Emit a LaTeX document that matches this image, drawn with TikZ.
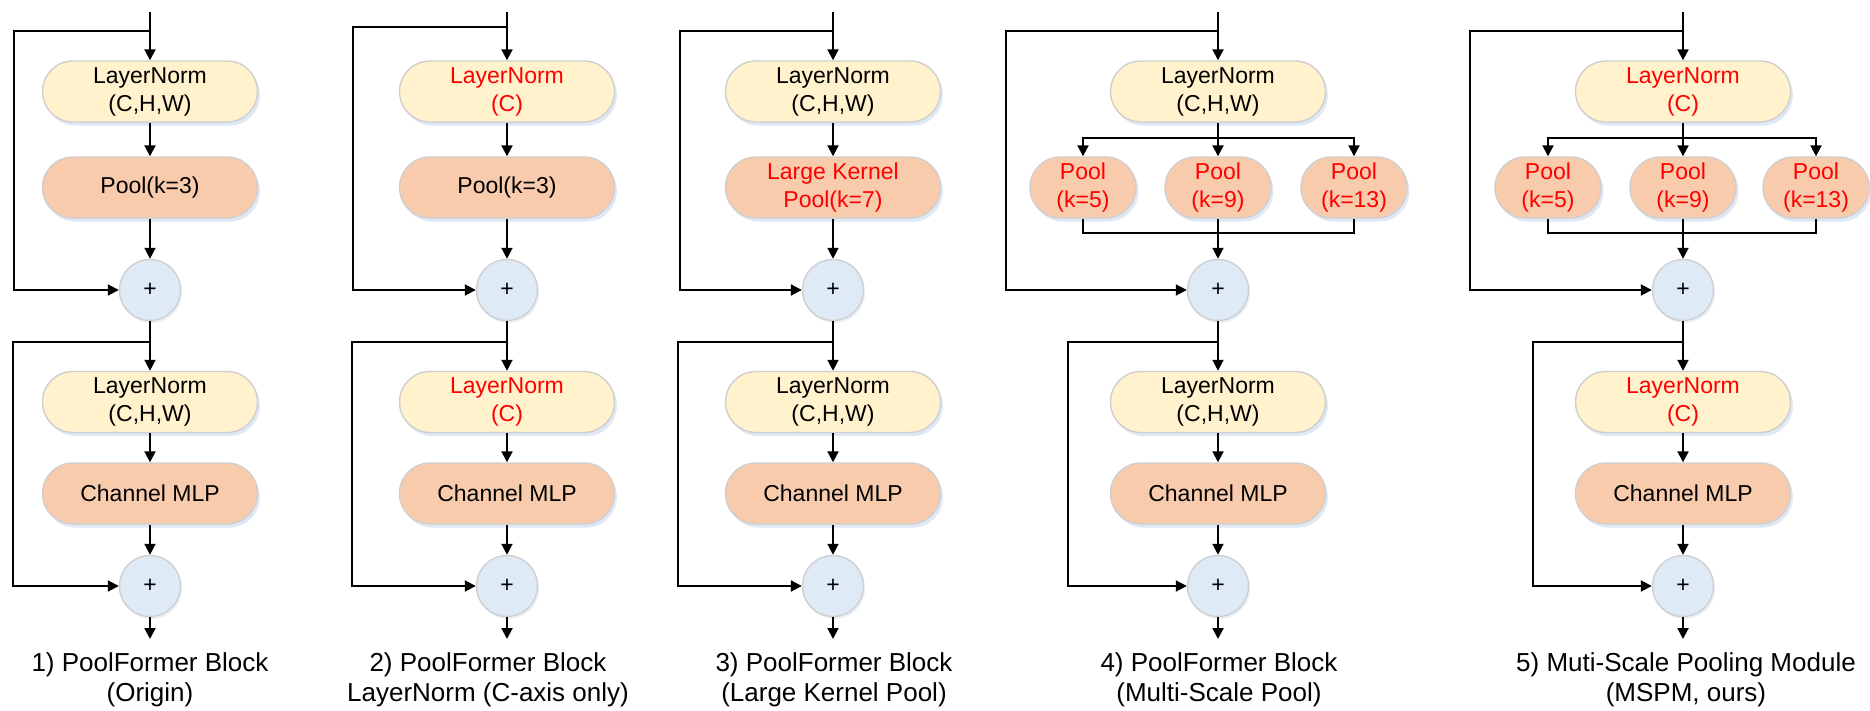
\documentclass[tikz,border=0pt]{standalone}
\usepackage{fontspec}
\setmainfont{Liberation Sans}
\usetikzlibrary{arrows.meta,shadows}
\definecolor{lnfill}{HTML}{FFF2CC}
\definecolor{plfill}{HTML}{F8CBAD}
\definecolor{plusfill}{HTML}{DEEBF7}
\definecolor{bordergray}{HTML}{D0CECE}
\definecolor{shadowblue}{HTML}{C9D9EE}
\definecolor{hl}{HTML}{FF0000}
\tikzset{
  boxbase/.style={rectangle, rounded corners=15.2pt, draw=bordergray, line width=0.7pt,
    minimum width=107.5pt, minimum height=30.5pt, inner sep=1pt, align=center,
    font=\fontsize{11.5}{14}\selectfont,
    drop shadow={shadow xshift=1.2pt, shadow yshift=-1.8pt, fill=shadowblue, opacity=0.6}},
  lnbox/.style={boxbase, fill=lnfill},
  plbox/.style={boxbase, fill=plfill},
  plsmall/.style={boxbase, fill=plfill, minimum width=53pt},
  plusnode/.style={circle, draw=bordergray, line width=0.7pt, fill=plusfill, minimum size=30.5pt,
    inner sep=0pt, font=\fontsize{11.5}{14}\selectfont,
    drop shadow={shadow xshift=0.8pt, shadow yshift=-1.2pt, fill=shadowblue, opacity=0.4}},
  conn/.style={line width=1pt, draw=black},
  arr/.style={conn, -{Triangle[length=5.5pt,width=5.5pt]}},
  captxt/.style={align=center, font=\fontsize{13}{15}\selectfont, inner sep=0pt}
}
\begin{document}
\begin{tikzpicture}[x=0.5pt,y=-0.5pt]
\useasboundingbox (0,0) rectangle (1870,711);

% ---------- Column 1 ----------
\node[lnbox] (ln1a) at (150,91.5) {LayerNorm\\(C,H,W)};
\node[plbox] (pl1) at (150,187.5) {Pool(k=3)};
\node[plusnode] (p1a) at (150,290) {+};
\node[lnbox] (ln1b) at (150,402) {LayerNorm\\(C,H,W)};
\node[plbox] (mlp1) at (150,493.5) {Channel MLP};
\node[plusnode] (p1b) at (150,586) {+};
\coordinate (t1) at (150,12);
\coordinate (b1) at (150,31);
\coordinate (u1) at (14,31);
\coordinate (m1) at (150,342);
\coordinate (l1) at (13,342);
\coordinate (o1) at (150,639);
\draw[arr] (t1) -- (ln1a);
\draw[arr] (ln1a) -- (pl1);
\draw[arr] (pl1) -- (p1a);
\draw[arr] (b1) -- (u1) |- (p1a.west);
\draw[arr] (p1a) -- (ln1b);
\draw[arr] (ln1b) -- (mlp1);
\draw[arr] (mlp1) -- (p1b);
\draw[arr] (m1) -- (l1) |- (p1b.west);
\draw[arr] (p1b) -- (o1);
\node[captxt] (c1) at (150,680) {1) PoolFormer Block\\(Origin)};

% ---------- Column 2 ----------
\node[lnbox] (ln2a) at (507,91.5) {\color{hl}LayerNorm\\\color{hl}(C)};
\node[plbox] (pl2) at (507,187.5) {Pool(k=3)};
\node[plusnode] (p2a) at (507,290) {+};
\node[lnbox] (ln2b) at (507,402) {\color{hl}LayerNorm\\\color{hl}(C)};
\node[plbox] (mlp2) at (507,493.5) {Channel MLP};
\node[plusnode] (p2b) at (507,586) {+};
\coordinate (t2) at (507,12);
\coordinate (b2) at (507,27);
\coordinate (u2) at (353,27);
\coordinate (m2) at (507,342);
\coordinate (l2) at (352,342);
\coordinate (o2) at (507,639);
\draw[arr] (t2) -- (ln2a);
\draw[arr] (ln2a) -- (pl2);
\draw[arr] (pl2) -- (p2a);
\draw[arr] (b2) -- (u2) |- (p2a.west);
\draw[arr] (p2a) -- (ln2b);
\draw[arr] (ln2b) -- (mlp2);
\draw[arr] (mlp2) -- (p2b);
\draw[arr] (m2) -- (l2) |- (p2b.west);
\draw[arr] (p2b) -- (o2);
\node[captxt] (c2) at (488,680) {2) PoolFormer Block\\LayerNorm (C-axis only)};

% ---------- Column 3 ----------
\node[lnbox] (ln3a) at (833,91.5) {LayerNorm\\(C,H,W)};
\node[plbox] (pl3) at (833,187.5) {\color{hl}Large Kernel\\\color{hl}Pool(k=7)};
\node[plusnode] (p3a) at (833,290) {+};
\node[lnbox] (ln3b) at (833,402) {LayerNorm\\(C,H,W)};
\node[plbox] (mlp3) at (833,493.5) {Channel MLP};
\node[plusnode] (p3b) at (833,586) {+};
\coordinate (t3) at (833,12);
\coordinate (b3) at (833,31);
\coordinate (u3) at (680,31);
\coordinate (m3) at (833,342);
\coordinate (l3) at (678,342);
\coordinate (o3) at (833,639);
\draw[arr] (t3) -- (ln3a);
\draw[arr] (ln3a) -- (pl3);
\draw[arr] (pl3) -- (p3a);
\draw[arr] (b3) -- (u3) |- (p3a.west);
\draw[arr] (p3a) -- (ln3b);
\draw[arr] (ln3b) -- (mlp3);
\draw[arr] (mlp3) -- (p3b);
\draw[arr] (m3) -- (l3) |- (p3b.west);
\draw[arr] (p3b) -- (o3);
\node[captxt] (c3) at (834,680) {3) PoolFormer Block\\(Large Kernel Pool)};

% ---------- Column 4 ----------
\node[lnbox] (ln4a) at (1218,91.5) {LayerNorm\\(C,H,W)};
\node[plsmall] (pl4a) at (1083,187.5) {\color{hl}Pool\\\color{hl}(k=5)};
\node[plsmall] (pl4b) at (1218,187.5) {\color{hl}Pool\\\color{hl}(k=9)};
\node[plsmall] (pl4c) at (1354,187.5) {\color{hl}Pool\\\color{hl}(k=13)};
\node[plusnode] (p4a) at (1218,290) {+};
\node[lnbox] (ln4b) at (1218,402) {LayerNorm\\(C,H,W)};
\node[plbox] (mlp4) at (1218,493.5) {Channel MLP};
\node[plusnode] (p4b) at (1218,586) {+};
\coordinate (t4) at (1218,12);
\coordinate (b4) at (1218,31);
\coordinate (u4) at (1006,31);
\coordinate (d4) at (1218,138);
\coordinate (g4) at (1218,233);
\coordinate (m4) at (1218,342);
\coordinate (l4) at (1068,342);
\coordinate (o4) at (1218,639);
\draw[arr] (t4) -- (ln4a);
\draw[arr] (ln4a) -- (pl4b);
\draw[arr] (d4) -| (pl4a);
\draw[arr] (d4) -| (pl4c);
\draw[conn] (pl4a) |- (g4);
\draw[conn] (pl4c) |- (g4);
\draw[arr] (pl4b) -- (p4a);
\draw[arr] (b4) -- (u4) |- (p4a.west);
\draw[arr] (p4a) -- (ln4b);
\draw[arr] (ln4b) -- (mlp4);
\draw[arr] (mlp4) -- (p4b);
\draw[arr] (m4) -- (l4) |- (p4b.west);
\draw[arr] (p4b) -- (o4);
\node[captxt] (c4) at (1219,680) {4) PoolFormer Block\\(Multi-Scale Pool)};

% ---------- Column 5 ----------
\node[lnbox] (ln5a) at (1683,91.5) {\color{hl}LayerNorm\\\color{hl}(C)};
\node[plsmall] (pl5a) at (1548,187.5) {\color{hl}Pool\\\color{hl}(k=5)};
\node[plsmall] (pl5b) at (1683,187.5) {\color{hl}Pool\\\color{hl}(k=9)};
\node[plsmall] (pl5c) at (1816,187.5) {\color{hl}Pool\\\color{hl}(k=13)};
\node[plusnode] (p5a) at (1683,290) {+};
\node[lnbox] (ln5b) at (1683,402) {\color{hl}LayerNorm\\\color{hl}(C)};
\node[plbox] (mlp5) at (1683,493.5) {Channel MLP};
\node[plusnode] (p5b) at (1683,586) {+};
\coordinate (t5) at (1683,12);
\coordinate (b5) at (1683,31);
\coordinate (u5) at (1470,31);
\coordinate (d5) at (1683,138);
\coordinate (g5) at (1683,233);
\coordinate (m5) at (1683,342);
\coordinate (l5) at (1533,342);
\coordinate (o5) at (1683,639);
\draw[arr] (t5) -- (ln5a);
\draw[arr] (ln5a) -- (pl5b);
\draw[arr] (d5) -| (pl5a);
\draw[arr] (d5) -| (pl5c);
\draw[conn] (pl5a) |- (g5);
\draw[conn] (pl5c) |- (g5);
\draw[arr] (pl5b) -- (p5a);
\draw[arr] (b5) -- (u5) |- (p5a.west);
\draw[arr] (p5a) -- (ln5b);
\draw[arr] (ln5b) -- (mlp5);
\draw[arr] (mlp5) -- (p5b);
\draw[arr] (m5) -- (l5) |- (p5b.west);
\draw[arr] (p5b) -- (o5);
\node[captxt] (c5) at (1686,680) {5) Muti-Scale Pooling Module\\(MSPM, ours)};
\end{tikzpicture}
\end{document}
